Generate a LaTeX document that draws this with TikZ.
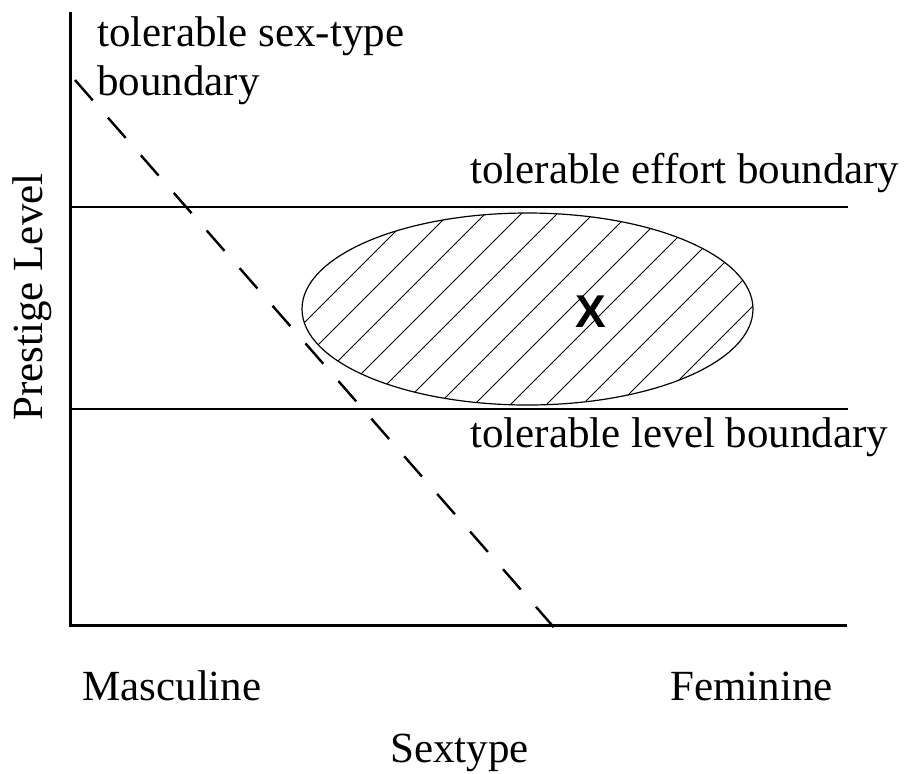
\documentclass[tikz,border=0pt]{standalone}
\usepackage{fontspec}
\setmainfont{Liberation Serif}
\newfontfamily\xfont{Liberation Sans}
\begin{document}
\begin{tikzpicture}[x=0.5pt,y=-0.5pt,
  lbl/.style={inner sep=0pt,anchor=base west,font=\fontsize{21.5}{25}\selectfont},
  axisline/.style={line width=1.5pt,line cap=rect},
  boundline/.style={line width=1.4pt},
  sexline/.style={line width=1.2pt,dash pattern=on 13.5pt off 11.5pt},
  hatchline/.style={line width=0.5pt}]
\useasboundingbox (0,0) rectangle (905,773);
% axes
\coordinate (top) at (70,13);
\coordinate (origin) at (70,625);
\coordinate (xend) at (845,625);
\draw[axisline] (top) -- (origin) -- (xend);
% horizontal boundaries
\coordinate (e1) at (70,207);
\coordinate (e2) at (848,207);
\coordinate (l1) at (70,409);
\coordinate (l2) at (848,409);
\draw[boundline] (e1) -- (e2);
\draw[boundline] (l1) -- (l2);
% hatched ellipse
\coordinate (ec) at (527.5,309);
\begin{scope}
  \clip (ec) ellipse [x radius=225.5, y radius=96];
  \foreach \c in {627,663,...,1059} \draw[hatchline] (\c-200,200) -- (\c-420,420);
\end{scope}
\draw[line width=0.6pt] (ec) ellipse [x radius=225.5, y radius=96];
\node[inner sep=0pt,font=\xfont\bfseries\fontsize{23}{26}\selectfont] (X) at (591,312) {X};
% sex-type boundary
\coordinate (s1) at (75,80);
\coordinate (s2) at (558,632);
\draw[sexline] (s1) -- (s2);
% labels
\node[lbl] (sexlbl1) at (97,46) {tolerable sex-type};
\node[lbl] (sexlbl2) at (97,95) {boundary};
\node[lbl] (effort) at (470,183) {tolerable effort boundary};
\node[lbl] (level) at (470,447) {tolerable level boundary};
\node[lbl] (masc) at (82,700) {Masculine};
\node[lbl] (fem) at (670,700) {Feminine};
\node[lbl] (sext) at (390,762) {Sextype};
\node[inner sep=0pt,anchor=base,rotate=90,font=\fontsize{21.5}{25}\selectfont] (prest) at (42,297) {Prestige Level};
\end{tikzpicture}
\end{document}
